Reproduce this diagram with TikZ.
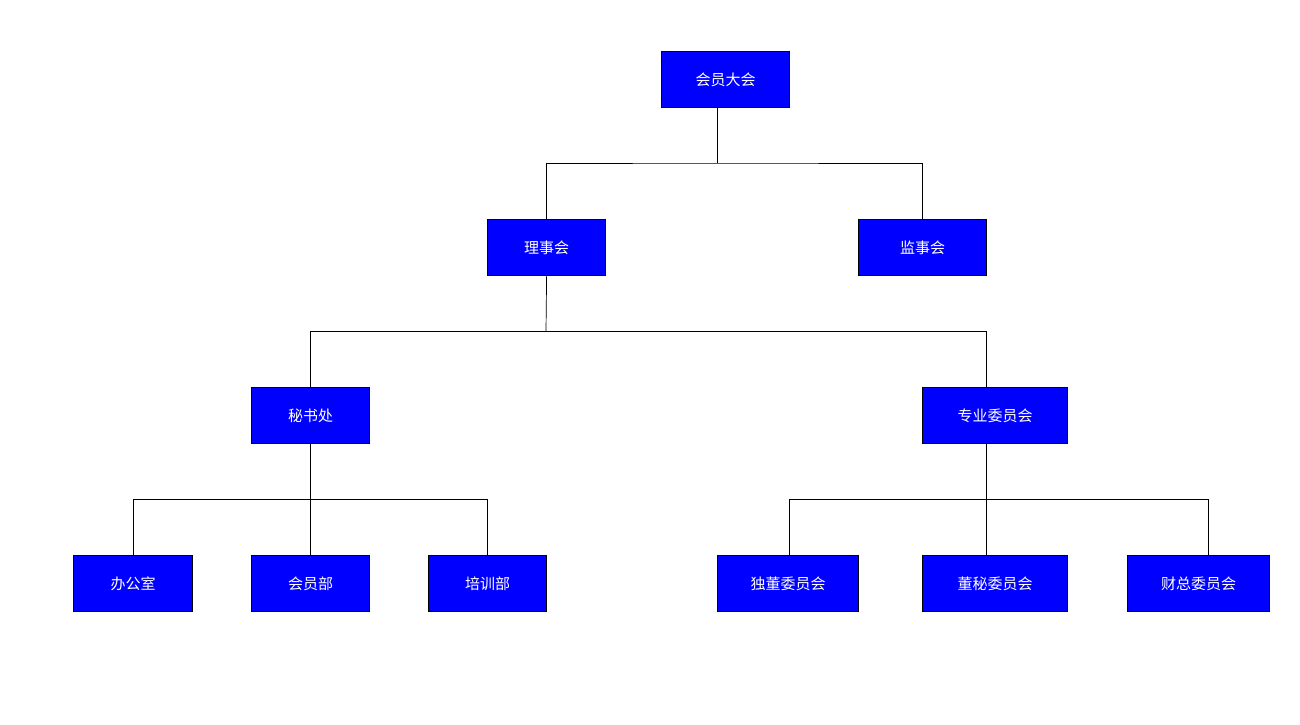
\documentclass[tikz,border=0pt]{standalone}
\usepackage{fontspec}
\setmainfont{Noto Sans CJK SC}
\begin{document}
\begin{tikzpicture}[x=1pt,y=-1pt,
 box/.style={draw=black,line width=1.2pt,fill={rgb,255:red,0;green,0;blue,255},text=white,font=\fontsize{15}{18}\selectfont,inner sep=0pt,anchor=north west},
 ln/.style={draw=black,line width=0.7pt}]
\useasboundingbox (0,0) rectangle (1300,724);
\newcommand\bx[6]{\node[box,minimum width={#4-#2},minimum height={#5-#3}] (#1) at (#2,#3) {#6};}
\bx{a}{661}{51}{789}{107}{会员大会}
\bx{b}{487}{219}{605}{275}{理事会}
\bx{c}{858}{219}{986}{275}{监事会}
\bx{d}{251}{387}{369}{443}{秘书处}
\bx{e}{922}{387}{1067}{443}{专业委员会}
\bx{f}{73}{555}{192}{611}{办公室}
\bx{g}{251}{555}{369}{611}{会员部}
\bx{h}{428}{555}{546}{611}{培训部}
\bx{i}{717}{555}{858}{611}{独董委员会}
\bx{j}{922}{555}{1067}{611}{董秘委员会}
\bx{k}{1127}{555}{1269}{611}{财总委员会}
\draw[ln] (717,107) -- (717,163);
\draw[ln] (b.north) |- (717,163) -| (c.north);
\draw[ln] (b.south) -- (546,331);
\draw[ln] (d.north) |- (546,331) -| (986,387);
\draw[ln] (d.south) -- (g.north);
\draw[ln] (133,555) |- (310,499) -| (487,555);
\draw[ln] (986,443) -- (986,555);
\draw[ln] (789,555) |- (986,499) -| (1208,555);
\end{tikzpicture}
\end{document}
